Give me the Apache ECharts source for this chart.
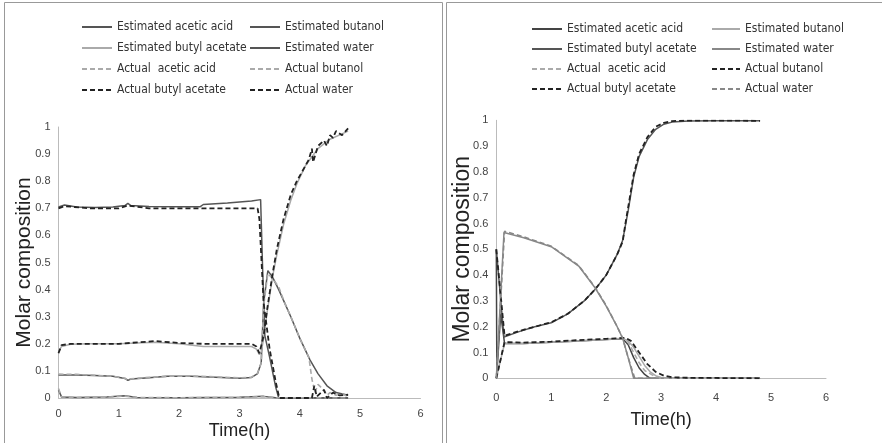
<!DOCTYPE html>
<html>
<head>
<meta charset="utf-8">
<script src="https://cdn.jsdelivr.net/npm/echarts@6/dist/echarts.min.js"></script>
<style>
html,body{margin:0;padding:0;background:#fff;}
#left{position:absolute;left:0;top:0;width:443px;height:443px;}
#right{position:absolute;left:443px;top:0;width:439px;height:443px;}
</style>
</head>
<body>
<div id="left"></div>
<div id="right"></div>
<script>
// ---------- Tick labels ----------
const X_TICKS = [0, 1, 2, 3, 4, 5, 6];
const Y_TICKS = [0, 0.1, 0.2, 0.3, 0.4, 0.5, 0.6, 0.7, 0.8, 0.9, 1];

// ---------- LEFT CHART ----------
const L_T_EST_ACETIC = [0, 0.05, 0.3, 0.8, 1.1, 1.3, 2.0, 3.0, 3.4, 3.6, 4.8];
const L_V_EST_ACETIC = [0.03, 0.004, 0.002, 0.004, 0.008, 0.002, 0.001, 0.003, 0.006, 0.001, 0.0];
const L_T_ACT_ACETIC = [0, 0.05, 0.3, 0.8, 1.1, 1.3, 2.0, 3.0, 3.4, 3.6, 4.8];
const L_V_ACT_ACETIC = [0.035, 0.004, 0.002, 0.003, 0.007, 0.002, 0.001, 0.002, 0.005, 0.001, 0.0];

const L_T_EST_BUTANOL = [0, 0.3, 0.6, 0.9, 1.1, 1.15, 1.2, 1.5, 1.8, 2.2, 2.6, 3.0, 3.2, 3.3, 3.36, 3.4, 3.47, 3.55, 3.65, 3.75, 3.85, 4.0, 4.17, 4.3, 4.45, 4.6, 4.8];
const L_V_EST_BUTANOL = [0.085, 0.085, 0.083, 0.08, 0.072, 0.065, 0.07, 0.075, 0.08, 0.08, 0.077, 0.073, 0.076, 0.09, 0.13, 0.35, 0.47, 0.445, 0.4, 0.35, 0.3, 0.22, 0.14, 0.09, 0.045, 0.02, 0.01];
const L_T_ACT_BUTANOL = [0, 0.3, 0.6, 0.9, 1.1, 1.15, 1.2, 1.5, 1.8, 2.2, 2.6, 3.0, 3.2, 3.3, 3.36, 3.4, 3.47, 3.55, 3.65, 3.75, 3.85, 4.0, 4.15, 4.2, 4.25, 4.3, 4.4, 4.45, 4.5, 4.6, 4.7, 4.8];
const L_V_ACT_BUTANOL = [0.088, 0.087, 0.084, 0.08, 0.073, 0.066, 0.071, 0.076, 0.08, 0.081, 0.078, 0.074, 0.077, 0.092, 0.13, 0.34, 0.46, 0.44, 0.41, 0.35, 0.3, 0.22, 0.15, 0.07, 0.02, 0.05, 0.03, 0.01, 0.02, 0.01, 0.015, 0.005];

const L_T_EST_BUAC = [0, 0.05, 0.2, 0.5, 1.0, 1.6, 2.0, 2.4, 2.8, 3.2, 3.28, 3.33, 3.36, 3.4, 3.46, 3.55, 3.62, 3.73, 3.85, 3.95, 4.1, 4.3, 4.5, 4.8];
const L_V_EST_BUAC = [0.17, 0.19, 0.198, 0.2, 0.2, 0.206, 0.2, 0.19, 0.19, 0.19, 0.18, 0.16, 0.17, 0.22, 0.32, 0.45, 0.53, 0.64, 0.73, 0.79, 0.86, 0.92, 0.955, 0.985];
const L_T_ACT_BUAC = [0, 0.05, 0.2, 0.5, 1.0, 1.6, 2.0, 2.4, 2.8, 3.2, 3.28, 3.33, 3.36, 3.4, 3.46, 3.55, 3.62, 3.73, 3.85, 3.95, 4.1, 4.15, 4.2, 4.22, 4.3, 4.4, 4.45, 4.5, 4.55, 4.6, 4.7, 4.8];
const L_V_ACT_BUAC = [0.165, 0.195, 0.2, 0.2, 0.2, 0.21, 0.203, 0.2, 0.2, 0.2, 0.19, 0.165, 0.17, 0.23, 0.33, 0.46, 0.55, 0.66, 0.75, 0.8, 0.86, 0.88, 0.92, 0.87, 0.93, 0.95, 0.93, 0.97, 0.96, 0.985, 0.97, 0.995];

const L_T_EST_WATER = [0, 0.1, 0.3, 0.6, 0.9, 1.1, 1.15, 1.2, 1.5, 2.0, 2.35, 2.4, 2.8, 3.2, 3.35, 3.38, 3.42, 3.5, 3.6, 3.65, 4.0, 4.8];
const L_V_EST_WATER = [0.705, 0.712, 0.705, 0.703, 0.705, 0.71, 0.718, 0.71, 0.707, 0.706, 0.706, 0.714, 0.72, 0.727, 0.732, 0.5, 0.23, 0.15, 0.04, 0.0, 0.0, 0.0];
const L_T_ACT_WATER = [0, 0.1, 0.5, 1.0, 1.15, 1.5, 2.0, 2.5, 3.0, 3.3, 3.33, 3.4, 3.5, 3.6, 3.66, 4.0, 4.2, 4.24, 4.28, 4.4, 4.45, 4.55, 4.65, 4.8];
const L_V_ACT_WATER = [0.7, 0.708, 0.7, 0.7, 0.71, 0.7, 0.7, 0.7, 0.7, 0.7, 0.66, 0.35, 0.18, 0.06, 0.0, 0.0, 0.0, 0.045, 0.005, 0.03, 0.0, 0.02, 0.01, 0.012];

// ---------- RIGHT CHART ----------
const R_T_EST_ACETIC = [0, 0.01, 0.08, 0.15, 0.5, 1.0, 1.5, 2.0, 2.3, 2.4, 2.5, 2.6, 2.7, 2.8, 3.0, 4.8];
const R_V_EST_ACETIC = [0.5, 0.02, 0.25, 0.135, 0.135, 0.14, 0.145, 0.15, 0.153, 0.13, 0.08, 0.04, 0.015, 0.0, 0.0, 0.0];
const R_T_ACT_ACETIC = [0, 0.15, 0.5, 1.0, 1.5, 2.0, 2.3, 2.4, 2.5, 2.6, 2.7, 2.9, 3.0, 4.8];
const R_V_ACT_ACETIC = [0.0, 0.14, 0.138, 0.142, 0.147, 0.152, 0.155, 0.14, 0.1, 0.06, 0.03, 0.005, 0.0, 0.0];

const R_T_EST_BUTANOL = [0, 0.15, 0.5, 1.0, 1.5, 2.0, 2.3, 2.4, 2.5, 2.6, 2.7, 2.8, 2.9, 3.0, 3.1, 4.8];
const R_V_EST_BUTANOL = [0.0, 0.135, 0.135, 0.14, 0.145, 0.15, 0.155, 0.145, 0.12, 0.085, 0.05, 0.025, 0.01, 0.003, 0.0, 0.0];
const R_T_ACT_BUTANOL = [0, 0.15, 0.5, 1.0, 1.5, 2.0, 2.35, 2.45, 2.6, 2.75, 2.9, 3.05, 3.2, 3.5, 4.8];
const R_V_ACT_BUTANOL = [0.0, 0.14, 0.138, 0.142, 0.148, 0.153, 0.157, 0.145, 0.1, 0.055, 0.025, 0.01, 0.004, 0.002, 0.0];

const R_T_EST_BUAC = [0, 0.14, 0.4, 0.7, 1.0, 1.3, 1.6, 1.8, 2.0, 2.2, 2.3, 2.4, 2.5, 2.6, 2.75, 2.9, 3.05, 3.2, 3.5, 4.0, 4.8];
const R_V_EST_BUAC = [0.5, 0.16, 0.18, 0.2, 0.215, 0.25, 0.3, 0.345, 0.4, 0.48, 0.535, 0.65, 0.78, 0.86, 0.925, 0.965, 0.985, 0.993, 0.997, 0.998, 0.998];
const R_T_ACT_BUAC = [0, 0.15, 0.4, 0.7, 1.0, 1.3, 1.6, 1.8, 2.0, 2.2, 2.3, 2.35, 2.5, 2.6, 2.75, 2.9, 3.05, 3.2, 3.5, 4.0, 4.8];
const R_V_ACT_BUAC = [0.5, 0.165, 0.182, 0.2, 0.217, 0.25, 0.3, 0.345, 0.4, 0.48, 0.53, 0.6, 0.79, 0.87, 0.935, 0.975, 0.99, 0.997, 0.999, 0.999, 0.998];

const R_T_EST_WATER = [0, 0.14, 0.5, 1.0, 1.5, 1.8, 2.0, 2.2, 2.3, 2.4, 2.5, 4.8];
const R_V_EST_WATER = [0.0, 0.565, 0.545, 0.51, 0.435, 0.35, 0.28, 0.2, 0.155, 0.08, 0.0, 0.0];
const R_T_ACT_WATER = [0, 0.15, 0.5, 1.0, 1.5, 1.8, 2.0, 2.2, 2.3, 2.4, 2.52, 3.0];
const R_V_ACT_WATER = [0.0, 0.57, 0.548, 0.512, 0.437, 0.352, 0.282, 0.2, 0.155, 0.08, 0.0, 0.0];

// ---------- helpers ----------
function pairs(ts, vs){ return ts.map((t,i)=>[t, vs[i]]); }
const NARROW = "'Liberation Sans Narrow','DejaVu Sans Condensed','Liberation Sans',sans-serif";
const ARIAL = "'Liberation Sans',Arial,sans-serif";
const DASH = [5, 3];

function line(name, ts, vs, color, dashed, width){
  return {
    name: name, type: 'line', data: pairs(ts, vs),
    symbol: 'none', showSymbol: false, smooth: false, animation: false,
    lineStyle: { color: color, width: width, type: dashed ? DASH : 'solid' },
    itemStyle: { color: color },
    z: dashed ? 3 : 2
  };
}

function legendCol(left, top, names, gap, iw){
  return {
    orient: 'vertical', left: left, top: top, data: names, padding: 0,
    itemWidth: iw, itemHeight: 14, itemGap: gap, selectedMode: false,
    itemStyle: { opacity: 0, borderWidth: 0 },
    textStyle: { fontFamily: NARROW, fontSize: 12, color: '#333' }
  };
}

function build(cfg){
  return {
    animation: false,
    textStyle: { fontFamily: ARIAL },
    grid: { left: cfg.gl, top: cfg.gt, width: cfg.gw, height: cfg.gh, containLabel: false, outerBoundsMode: 'none' },
    legend: cfg.legends,
    xAxis: {
      type: 'value', min: X_TICKS[0], max: X_TICKS[X_TICKS.length-1], interval: 1,
      name: 'Time(h)', nameLocation: 'middle', nameGap: cfg.xGap, nameMoveOverlap: false,
      nameTextStyle: { fontFamily: ARIAL, fontSize: cfg.xNameSize, color: '#222' },
      axisLine: { show: true, lineStyle: { color: '#bbb', width: 1 } },
      axisTick: { show: false }, splitLine: { show: false },
      axisLabel: { fontSize: 11, color: '#444', margin: cfg.xMargin, fontFamily: ARIAL }
    },
    yAxis: {
      type: 'value', min: Y_TICKS[0], max: Y_TICKS[Y_TICKS.length-1], interval: 0.1,
      name: 'Molar composition', nameLocation: 'middle', nameGap: cfg.yGap, nameMoveOverlap: false,
      nameTextStyle: { fontFamily: ARIAL, fontSize: cfg.yNameSize, color: '#222' },
      axisLine: { show: true, lineStyle: { color: '#bbb', width: 1 } },
      axisTick: { show: false }, splitLine: { show: false },
      axisLabel: { fontSize: 11, color: '#444', margin: 8, fontFamily: ARIAL,
        formatter: function(v){ return String(Math.round(v*10)/10); } }
    },
    graphic: [{ type: 'rect', shape: cfg.border, style: { fill: 'none', stroke: '#999', lineWidth: 1 }, silent: true }],
    series: cfg.series
  };
}

// Left chart
const leftChart = echarts.init(document.getElementById('left'), null, { renderer: 'canvas' });
leftChart.setOption(build({
  gl: 58.5, gt: 127, gw: 362, gh: 271,
  xGap: 24, xNameSize: 18, xMargin: 10, yGap: 24, yNameSize: 21,
  border: { x: 4.5, y: 2.5, width: 438, height: 450 },
  legends: [
    legendCol(81, 21, ['Estimated acetic acid', 'Estimated butyl acetate', 'Actual  acetic acid', 'Actual butyl acetate'], 9, 30),
    legendCol(249, 21, ['Estimated butanol', 'Estimated water', 'Actual butanol', 'Actual water'], 9, 30)
  ],
  series: [
    line('Estimated acetic acid', L_T_EST_ACETIC, L_V_EST_ACETIC, '#555', false, 1.5),
    line('Estimated butanol', L_T_EST_BUTANOL, L_V_EST_BUTANOL, '#555', false, 1.5),
    line('Estimated butyl acetate', L_T_EST_BUAC, L_V_EST_BUAC, '#aaa', false, 1.5),
    line('Estimated water', L_T_EST_WATER, L_V_EST_WATER, '#555', false, 1.5),
    line('Actual  acetic acid', L_T_ACT_ACETIC, L_V_ACT_ACETIC, '#aaa', true, 1.6),
    line('Actual butanol', L_T_ACT_BUTANOL, L_V_ACT_BUTANOL, '#aaa', true, 1.6),
    line('Actual butyl acetate', L_T_ACT_BUAC, L_V_ACT_BUAC, '#222', true, 1.8),
    line('Actual water', L_T_ACT_WATER, L_V_ACT_WATER, '#222', true, 1.8)
  ]
}));

// Right chart (offset 443px)
const rightChart = echarts.init(document.getElementById('right'), null, { renderer: 'canvas' });
rightChart.setOption(build({
  gl: 53.3, gt: 120.3, gw: 329.7, gh: 258,
  xGap: 33, xNameSize: 18, xMargin: 14, yGap: 22, yNameSize: 23,
  border: { x: 3.5, y: 2.5, width: 450, height: 450 },
  legends: [
    legendCol(88, 23, ['Estimated acetic acid', 'Estimated butyl acetate', 'Actual  acetic acid', 'Actual butyl acetate'], 8, 30),
    legendCol(268, 23, ['Estimated butanol', 'Estimated water', 'Actual butanol', 'Actual water'], 8, 28)
  ],
  series: [
    line('Estimated acetic acid', R_T_EST_ACETIC, R_V_EST_ACETIC, '#444', false, 1.5),
    line('Estimated butanol', R_T_EST_BUTANOL, R_V_EST_BUTANOL, '#aaa', false, 1.5),
    line('Estimated butyl acetate', R_T_EST_BUAC, R_V_EST_BUAC, '#555', false, 1.5),
    line('Estimated water', R_T_EST_WATER, R_V_EST_WATER, '#888', false, 1.5),
    line('Actual  acetic acid', R_T_ACT_ACETIC, R_V_ACT_ACETIC, '#aaa', true, 1.6),
    line('Actual butanol', R_T_ACT_BUTANOL, R_V_ACT_BUTANOL, '#222', true, 1.8),
    line('Actual butyl acetate', R_T_ACT_BUAC, R_V_ACT_BUAC, '#222', true, 1.8),
    line('Actual water', R_T_ACT_WATER, R_V_ACT_WATER, '#888', true, 1.6)
  ]
}));
</script>
</body>
</html>
